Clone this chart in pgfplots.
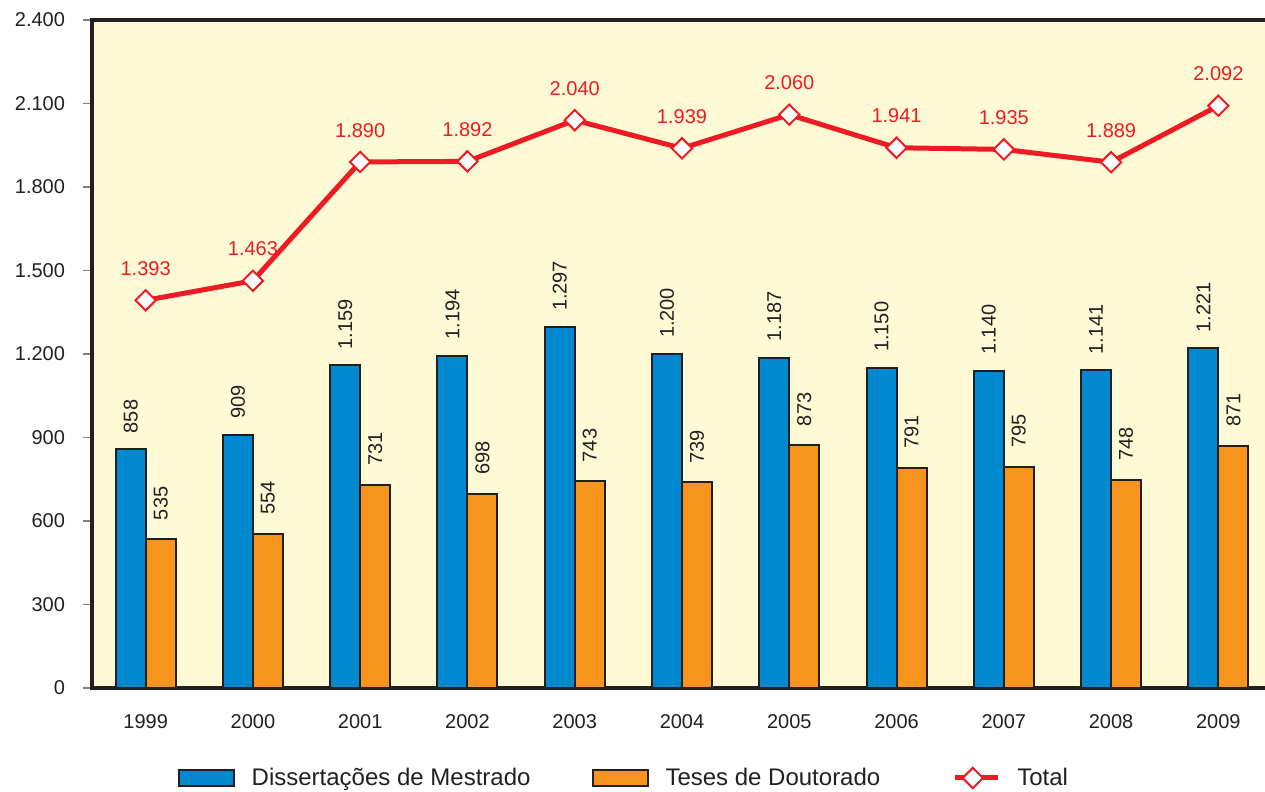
\documentclass[border=0pt]{standalone}
\usepackage{pgfplots}
\pgfplotsset{compat=1.18}
\usepackage{fontspec}
\setmainfont{Liberation Sans}
\definecolor{bblue}{HTML}{0089CF}
\definecolor{borange}{HTML}{F7941E}
\definecolor{tred}{HTML}{ED1C24}
\definecolor{bgyel}{HTML}{FFFAD6}
\definecolor{edge}{HTML}{231F20}
\pgfplotsset{
  barleg/.style={legend image code/.code={\draw[##1] (0pt,-4pt) rectangle (27.5pt,4pt);}},
  lineleg/.style={legend image code/.code={\path (-5.5pt,0pt); \draw[##1, mark=none] (0pt,0pt) -- (21.5pt,0pt); \draw[##1] plot coordinates {(9pt,0pt)};}},
}
\begin{document}
\begin{tikzpicture}
\begin{axis}[
  at={(0,0)}, anchor=south west,
  scale only axis, width=590pt, height=334pt,
  xmin=-0.5, xmax=10.5, ymin=0, ymax=2400,
  axis background/.style={fill=bgyel},
  axis line style={line width=2pt, edge},
  ytick={0,300,...,2400},
  xtick={0,...,10},
  xticklabels={1999,2000,2001,2002,2003,2004,2005,2006,2007,2008,2009},
  minor xtick={-0.5,0.5,...,10.5},
  xtick style={draw=none},
  minor tick style={gray, line width=0.6pt},
  ytick style={gray, line width=0.6pt},
  major tick length=4.5pt, minor tick length=4.5pt,
  tick align=outside,
  ytick pos=left, xtick pos=bottom,
  /pgf/number format/.cd, 1000 sep={.}, assume math mode=true, /pgfplots/.cd,
  ticklabel style={font=\fontsize{10}{12}\selectfont, text=edge},
  yticklabel style={xshift=-5.5pt},
  xticklabel style={yshift=-5pt},
  ybar=0pt, bar width=15pt,
  legend style={at={(axis description cs:0.4516,0)}, anchor=center, yshift=-45pt,
    draw=none, fill=none, font=\fontsize{12}{14}\selectfont, text=edge,
    /tikz/every odd column/.append style={column sep=6.5pt},
    /tikz/every even column/.append style={column sep=28.5pt}},
  legend columns=3, legend cell align=left,
]
\addplot[fill=bblue, draw=edge, line width=1pt, barleg,
  nodes near coords,
  every node near coord/.append style={rotate=90, anchor=west, inner xsep=7.5pt, text=edge, font=\fontsize{10}{12}\selectfont}]
  coordinates {(0,858) (1,909) (2,1159) (3,1194) (4,1297) (5,1200) (6,1187) (7,1150) (8,1140) (9,1141) (10,1221)};
\addlegendentry{Dissertações de Mestrado}
\addplot[fill=borange, draw=edge, line width=1pt, barleg,
  nodes near coords,
  every node near coord/.append style={rotate=90, anchor=west, inner xsep=9pt, text=edge, font=\fontsize{10}{12}\selectfont}]
  coordinates {(0,535) (1,554) (2,731) (3,698) (4,743) (5,739) (6,873) (7,791) (8,795) (9,748) (10,871)};
\addlegendentry{Teses de Doutorado}
\addplot[sharp plot, color=tred, line width=2.5pt, lineleg,
  mark=square*, mark size=3.6pt,
  mark options={rotate=45, fill=white, draw=tred, line width=1pt},
  nodes near coords,
  every node near coord/.append style={anchor=south, yshift=8.5pt, text=tred, font=\fontsize{10}{12}\selectfont}]
  coordinates {(0,1393) (1,1463) (2,1890) (3,1892) (4,2040) (5,1939) (6,2060) (7,1941) (8,1935) (9,1889) (10,2092)};
\addlegendentry{Total}
\end{axis}
\pgfresetboundingbox
\path[use as bounding box] (-46pt,-52pt) rectangle (586.5pt,344pt);
\end{tikzpicture}
\end{document}
